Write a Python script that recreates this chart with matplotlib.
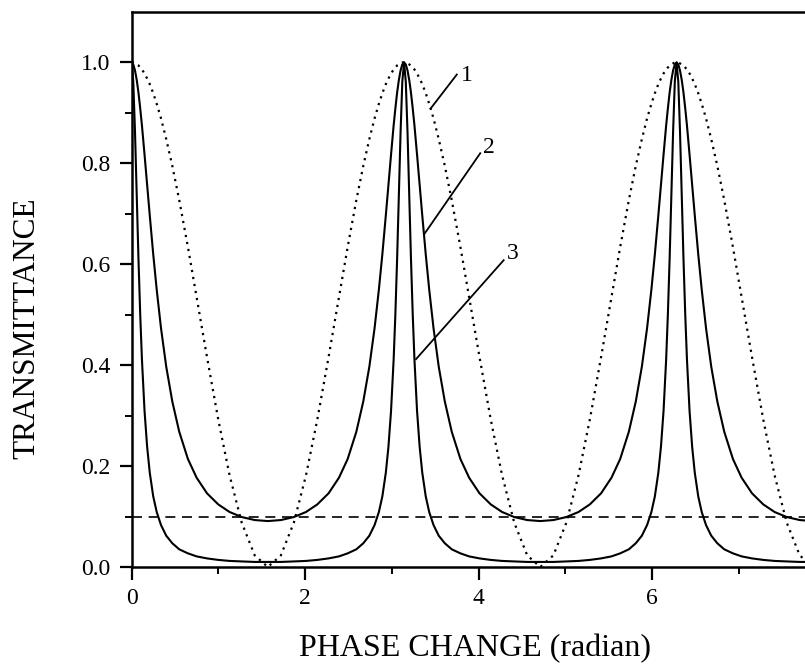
import matplotlib
matplotlib.use("Agg")
import matplotlib.pyplot as plt

plt.rcParams['font.family'] = ['Liberation Serif', 'DejaVu Serif']

# phase change (radian), denser near the transmission peaks at 0, pi, 2pi
phase = [
    0.0000, 0.0200, 0.0400, 0.0600, 0.0800, 0.1000, 0.1200, 0.1500, 0.1800, 0.2100, 0.2500, 0.2900,
    0.3400, 0.4000, 0.4700, 0.5500, 0.6500, 0.7500, 0.8700, 1.0000, 1.1300, 1.2700, 1.4200, 1.5708,
    1.7216, 1.8716, 2.0116, 2.1416, 2.2716, 2.3916, 2.4916, 2.5916, 2.6716, 2.7416, 2.8016, 2.8516,
    2.8916, 2.9316, 2.9616, 2.9916, 3.0216, 3.0416, 3.0616, 3.0816, 3.1016, 3.1216, 3.1416,
    3.1616, 3.1816, 3.2016, 3.2216, 3.2416, 3.2616, 3.2916, 3.3216, 3.3516, 3.3916, 3.4316, 3.4816,
    3.5416, 3.6116, 3.6916, 3.7916, 3.8916, 4.0116, 4.1416, 4.2716, 4.4116, 4.5616, 4.7124,
    4.8632, 5.0132, 5.1532, 5.2832, 5.4132, 5.5332, 5.6332, 5.7332, 5.8132, 5.8832, 5.9432, 5.9932,
    6.0332, 6.0732, 6.1032, 6.1332, 6.1632, 6.1832, 6.2032, 6.2232, 6.2432, 6.2632, 6.2832,
    6.3032, 6.3232, 6.3432, 6.3632, 6.3832, 6.4032, 6.4332, 6.4632, 6.4932, 6.5332, 6.5732, 6.6232,
    6.6832, 6.7532, 6.8332, 6.9332, 7.0332, 7.1532, 7.2832, 7.4132, 7.5532, 7.7032, 7.8540,
]

# curve 1 (dotted)
trans1 = [
    1.000, 1.000, 0.998, 0.996, 0.994, 0.990, 0.986, 0.978, 0.968, 0.957, 0.939, 0.918,
    0.889, 0.848, 0.795, 0.727, 0.634, 0.535, 0.416, 0.292, 0.182, 0.088, 0.023, 0.000,
    0.023, 0.088, 0.182, 0.292, 0.416, 0.535, 0.634, 0.727, 0.795, 0.848, 0.889, 0.918,
    0.939, 0.957, 0.968, 0.978, 0.986, 0.990, 0.994, 0.996, 0.998, 1.000, 1.000,
    1.000, 0.998, 0.996, 0.994, 0.990, 0.986, 0.978, 0.968, 0.957, 0.939, 0.918, 0.889,
    0.848, 0.795, 0.727, 0.634, 0.535, 0.416, 0.292, 0.182, 0.088, 0.023, 0.000,
    0.023, 0.088, 0.182, 0.292, 0.416, 0.535, 0.634, 0.727, 0.795, 0.848, 0.889, 0.918,
    0.939, 0.957, 0.968, 0.978, 0.986, 0.990, 0.994, 0.996, 0.998, 1.000, 1.000,
    1.000, 0.998, 0.996, 0.994, 0.990, 0.986, 0.978, 0.968, 0.957, 0.939, 0.918, 0.889,
    0.848, 0.795, 0.727, 0.634, 0.535, 0.416, 0.292, 0.182, 0.088, 0.023, 0.000,
]

# curve 2
trans2 = [
    1.000, 0.996, 0.984, 0.965, 0.940, 0.909, 0.875, 0.817, 0.757, 0.697, 0.620, 0.550,
    0.473, 0.397, 0.328, 0.268, 0.214, 0.177, 0.146, 0.124, 0.109, 0.099, 0.093, 0.091,
    0.093, 0.099, 0.109, 0.124, 0.146, 0.177, 0.214, 0.268, 0.328, 0.397, 0.473, 0.550,
    0.620, 0.697, 0.757, 0.817, 0.875, 0.909, 0.940, 0.965, 0.984, 0.996, 1.000,
    0.996, 0.984, 0.965, 0.940, 0.909, 0.875, 0.817, 0.757, 0.697, 0.620, 0.550, 0.473,
    0.397, 0.328, 0.268, 0.214, 0.177, 0.146, 0.124, 0.109, 0.099, 0.093, 0.091,
    0.093, 0.099, 0.109, 0.124, 0.146, 0.177, 0.214, 0.268, 0.328, 0.397, 0.473, 0.550,
    0.620, 0.697, 0.757, 0.817, 0.875, 0.909, 0.940, 0.965, 0.984, 0.996, 1.000,
    0.996, 0.984, 0.965, 0.940, 0.909, 0.875, 0.817, 0.757, 0.697, 0.620, 0.550, 0.473,
    0.397, 0.328, 0.268, 0.214, 0.177, 0.146, 0.124, 0.109, 0.099, 0.093, 0.091,
]

# curve 3
trans3 = [
    1.000, 0.962, 0.862, 0.736, 0.610, 0.501, 0.411, 0.309, 0.238, 0.187, 0.140, 0.109,
    0.083, 0.062, 0.047, 0.035, 0.027, 0.021, 0.017, 0.014, 0.012, 0.011, 0.010, 0.010,
    0.010, 0.011, 0.012, 0.014, 0.017, 0.021, 0.027, 0.035, 0.047, 0.062, 0.083, 0.109,
    0.140, 0.187, 0.238, 0.309, 0.411, 0.501, 0.610, 0.736, 0.862, 0.962, 1.000,
    0.962, 0.862, 0.736, 0.610, 0.501, 0.411, 0.309, 0.238, 0.187, 0.140, 0.109, 0.083,
    0.062, 0.047, 0.035, 0.027, 0.021, 0.017, 0.014, 0.012, 0.011, 0.010, 0.010,
    0.010, 0.011, 0.012, 0.014, 0.017, 0.021, 0.027, 0.035, 0.047, 0.062, 0.083, 0.109,
    0.140, 0.187, 0.238, 0.309, 0.411, 0.501, 0.610, 0.736, 0.862, 0.962, 1.000,
    0.962, 0.862, 0.736, 0.610, 0.501, 0.411, 0.309, 0.238, 0.187, 0.140, 0.109, 0.083,
    0.062, 0.047, 0.035, 0.027, 0.021, 0.017, 0.014, 0.012, 0.011, 0.010, 0.010,
]

threshold = 0.1

# curve labels: text, label position, leader line start / end (on curve)
labels = ["1", "2", "3"]
label_pos = [(3.86, 0.975), (4.12, 0.832), (4.39, 0.622)]
leader_start = [(3.75, 0.976), (4.02, 0.820), (4.29, 0.608)]
leader_end = [(3.45, 0.909), (3.38, 0.661), (3.28, 0.412)]

fig = plt.figure(figsize=(8.05, 6.65), dpi=100)
ax = fig.add_axes([0.1634, 0.1474, 0.8366, 0.8346])

ax.plot(phase, trans1, color='black', linestyle=(0, (1, 2.2)), linewidth=1.6)
ax.plot(phase, trans2, color='black', linewidth=1.5)
ax.plot(phase, trans3, color='black', linewidth=1.5)
ax.axhline(threshold, color='black', linestyle=(0, (6, 4)), linewidth=1.2)

for txt, lp, ls, le in zip(labels, label_pos, leader_start, leader_end):
    ax.plot([ls[0], le[0]], [ls[1], le[1]], color='black', linewidth=1.3)
    ax.text(lp[0], lp[1], txt, fontsize=17, ha='center', va='center')

ax.set_xlim(0, 7.764)
ax.set_ylim(0, 1.1)
ax.set_xticks([0, 2, 4, 6])
ax.set_xticks([1, 3, 5, 7], minor=True)
ax.set_yticks([0.0, 0.2, 0.4, 0.6, 0.8, 1.0])
ax.set_yticks([0.1, 0.3, 0.5, 0.7, 0.9], minor=True)
ax.set_yticklabels(['0.0', '0.2', '0.4', '0.6', '0.8', '1.0'])

ax.spines['right'].set_visible(False)
for s in ['left', 'bottom', 'top']:
    ax.spines[s].set_linewidth(1.8)
ax.tick_params(which='major', direction='out', length=9, width=1.6, labelsize=17, pad=6)
ax.tick_params(which='minor', direction='out', length=5, width=1.4)

fig.text(0.590, 0.0135, 'PHASE CHANGE (radian)', fontsize=23, ha='center', va='baseline')
fig.text(0.034, 0.507, 'TRANSMITTANCE', fontsize=22.5, rotation=90, ha='center', va='center')

fig.savefig('out.png', dpi=100)
